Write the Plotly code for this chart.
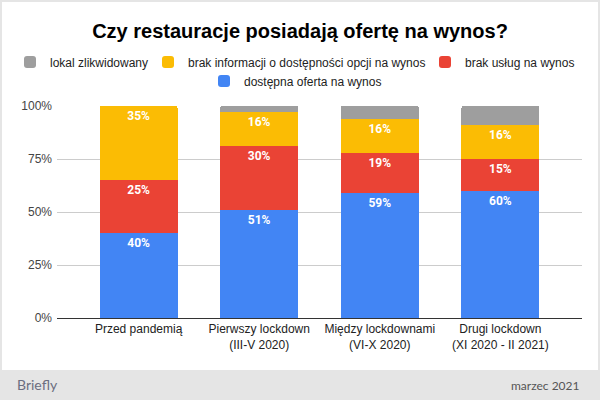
import plotly.graph_objects as go

categories = ["Przed pandemią", "Pierwszy lockdown<br>(III-V 2020)",
              "Między lockdownami<br>(VI-X 2020)", "Drugi lockdown<br>(XI 2020 - II 2021)"]
dostepna = [40, 51, 59, 60]
brak_uslug = [25, 30, 19, 15]
brak_informacji = [35, 16, 16, 16]
zlikwidowany = [0, 3, 6, 9]
y_ticks = [0, 25, 50, 75, 100]
y_tick_labels = ["0%", "25%", "50%", "75%", "100%"]

series = [
    ("dostępna oferta na wynos", dostepna, "#4285F4", True, "legend4"),
    ("brak usług na wynos", brak_uslug, "#EA4335", True, "legend3"),
    ("brak informacji o dostępności opcji na wynos", brak_informacji, "#FBBC04", True, "legend2"),
    ("lokal zlikwidowany", zlikwidowany, "#9E9E9E", False, "legend"),
]

fig = go.Figure()
for name, vals, color, labels, leg in series:
    fig.add_trace(go.Bar(
        x=list(range(len(categories))), y=vals, name=name,
        marker=dict(color=color, line=dict(width=0)),
        text=[f"{v}%" for v in vals] if labels else None,
        textposition="inside" if labels else "none",
        insidetextanchor="end", textangle=0,
        textfont=dict(family="Roboto, Arial", size=12, color="white", weight="bold"),
        legend=leg, showlegend=True,
        hoverinfo="skip",
    ))

# plot area geometry in px: left 57, right 582, top 106, bottom 318
L, R, T, B = 57, 582, 106, 318
def px_x(px):
    return (px - L) / (R - L)
def px_y(py):
    return (B - py) / (B - T)

def leg(text_x, row_y):
    return dict(orientation="h", xref="container", yref="container",
                x=(text_x - 37) / 600, xanchor="left", y=1 - row_y / 400, yanchor="middle",
                itemclick=False, font=dict(size=12, color="#222"),
                bgcolor="rgba(0,0,0,0)", borderwidth=0)

fig.update_layout(
    width=600, height=400,
    showlegend=True,
    margin=dict(l=L, r=600 - R, t=T, b=400 - B, autoexpand=False),
    paper_bgcolor="#e5e5e5", plot_bgcolor="white",
    barmode="stack", bargap=0.353, barcornerradius=2,
    font=dict(family="Liberation Sans, Arial", size=12, color="#222"),
    title=dict(text="<b>Czy restauracje posiadają ofertę na wynos?</b>",
               x=0.5, xref="container", xanchor="center",
               y=1 - 31 / 400, yref="container", yanchor="middle",
               font=dict(family="Liberation Sans, Arial", size=20, color="#000")),
    legend=leg(47, 62),
    legend2=leg(185, 62),
    legend3=leg(462, 62),
    legend4=leg(241, 81),
    xaxis=dict(range=[-0.677, 3.677], tickvals=list(range(len(categories))),
               ticktext=categories, showgrid=False, showline=True,
               linecolor="#333", linewidth=1, ticks="", fixedrange=True,
               tickfont=dict(size=12, color="#222")),
    yaxis=dict(range=[0, 100], tickvals=y_ticks, ticktext=y_tick_labels,
               showgrid=True, gridcolor="#cccccc", gridwidth=1, zeroline=False,
               ticks="", ticklabelstandoff=4,
               tickfont=dict(size=12, color="#444"), fixedrange=True),
    shapes=[dict(type="rect", xref="paper", yref="paper", layer="below",
                 x0=px_x(2), x1=px_x(598), y0=px_y(370), y1=px_y(2),
                 fillcolor="white", line=dict(width=0))],
    annotations=[
        dict(text="Briefly", xref="paper", yref="paper", x=px_x(15), y=px_y(384),
             xanchor="left", yanchor="middle", showarrow=False,
             font=dict(family="Lato", size=14, color="#6b6e80")),
        dict(text="marzec 2021", xref="paper", yref="paper", x=px_x(582), y=px_y(385),
             xanchor="right", yanchor="middle", showarrow=False,
             font=dict(family="Lato", size=12, color="#555")),
    ],
)

fig.write_html("out.html", config={"displayModeBar": False},
               post_script="document.body.style.margin='0';")
